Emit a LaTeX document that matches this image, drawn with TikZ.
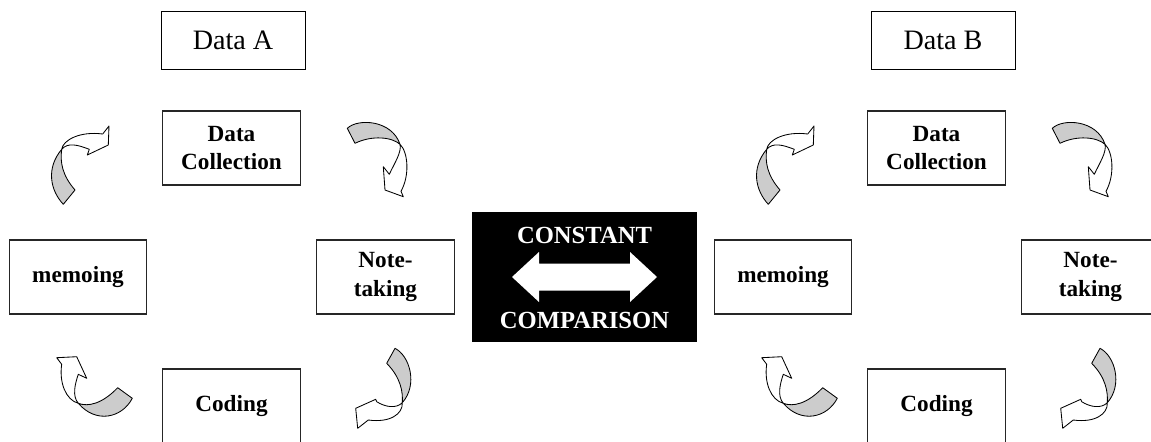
\documentclass[tikz,border=0pt]{standalone}
\usepackage{fontspec}
\setmainfont{Liberation Serif}
\usepackage{tikz}

\tikzset{
  stage/.style={draw=black!85, line width=0.8pt, minimum width=3.43cm, minimum height=1.85cm, align=center, font=\fontsize{16.5}{20.5}\selectfont\bfseries},
  databox/.style={draw, line width=0.6pt, minimum width=3.6cm, minimum height=1.45cm, font=\fontsize{20}{24}\selectfont},
  cclabel/.style={text=white, font=\fontsize{17.5}{21}\selectfont\bfseries},
  back/.style={fill=black!20, draw, line width=0.6pt, line join=round},
  front/.style={fill=white, draw, line width=0.6pt, line join=round},
  arrowring/.pic={
    % memoing -> data collection
    \path[back] (63.3,204.3) .. controls (50,190) and (46,168) .. (61.7,149.3)
      .. controls (60,162) and (62,175) .. (75,190) -- cycle;
    \path[front] (61.7,149.3) .. controls (63,140) and (80,131) .. (102.7,134) -- (109,126) -- (108.3,145)
      -- (87.3,155) -- (89.3,149.3) .. controls (78,145) and (68,142) .. (61.7,149.3) -- cycle;
    % data collection -> note-taking
    \path[back] (347.3,128.3) .. controls (358,118) and (392,120) .. (400,144.3)
      .. controls (392,137) and (372,135) .. (355,143.3) -- cycle;
    \path[front] (400,144.3) .. controls (408,152) and (410,175) .. (401,191.3) -- (403.3,196.7) -- (385,190)
      -- (383.3,166.7) -- (389.3,174.3) .. controls (394,164) and (402,152) .. (400,144.3) -- cycle;
    % note-taking -> coding
    \path[back] (395,348.3) .. controls (410,356) and (418,385) .. (402.3,402.7)
      .. controls (403,392) and (401,378) .. (386.7,363.3) -- cycle;
    \path[front] (402.3,402.7) .. controls (403,414) and (390,423) .. (368.3,420) -- (357.7,428.3) -- (355.7,408.3)
      -- (375.7,399.3) -- (376.7,401.7) .. controls (385,407) and (396,409) .. (402.3,402.7) -- cycle;
    % coding -> memoing
    \path[back] (132.3,398.3) .. controls (122,418) and (96,424) .. (78.3,403.3)
      .. controls (88,407) and (102,404) .. (117.7,387.7) -- cycle;
    \path[front] (78.3,403.3) .. controls (66,400) and (59,383) .. (61.7,364.3) -- (56.7,357.7) -- (76.7,356.7)
      -- (86.7,378.3) -- (78.3,374.3) .. controls (75,384) and (72,396) .. (78.3,403.3) -- cycle;
  }
}

\begin{document}
\begin{tikzpicture}[x=0.025cm, y=-0.025cm]
    \useasboundingbox (0,0) rectangle (1151,441);
    % first cycle
    \node[databox] (dataA) at (233,40) {Data A};
    \node[stage] (collA) at (231.5,148) {Data\\Collection};
    \node[stage] (noteA) at (385.5,277) {Note-\\taking};
    \node[stage] (codeA) at (231.5,406) {Coding};
    \node[stage] (memoA) at (78,277) {memoing};
    \pic (ringA) at (0,0) {arrowring};
    % constant comparison
    \node[fill=black, minimum width=5.625cm, minimum height=3.25cm] (cc) at (584.5,277) {};
    \node[cclabel] (ccup) at (584.5,235) {CONSTANT};
    \node[cclabel] (ccdown) at (584.5,320) {COMPARISON};
    \fill[white] (512,277) -- (539,252) -- (539,263.5) -- (630,263.5) -- (630,252) -- (657,277)
      -- (630,302) -- (630,290.5) -- (539,290.5) -- (539,302) -- cycle;
    % second cycle
    \node[databox] (dataB) at (943,40) {Data B};
    \node[stage] (collB) at (936.5,148) {Data\\Collection};
    \node[stage] (noteB) at (1090.5,277) {Note-\\taking};
    \node[stage] (codeB) at (936.5,406) {Coding};
    \node[stage] (memoB) at (783,277) {memoing};
    \pic (ringB) at (705,0) {arrowring};
\end{tikzpicture}
\end{document}
